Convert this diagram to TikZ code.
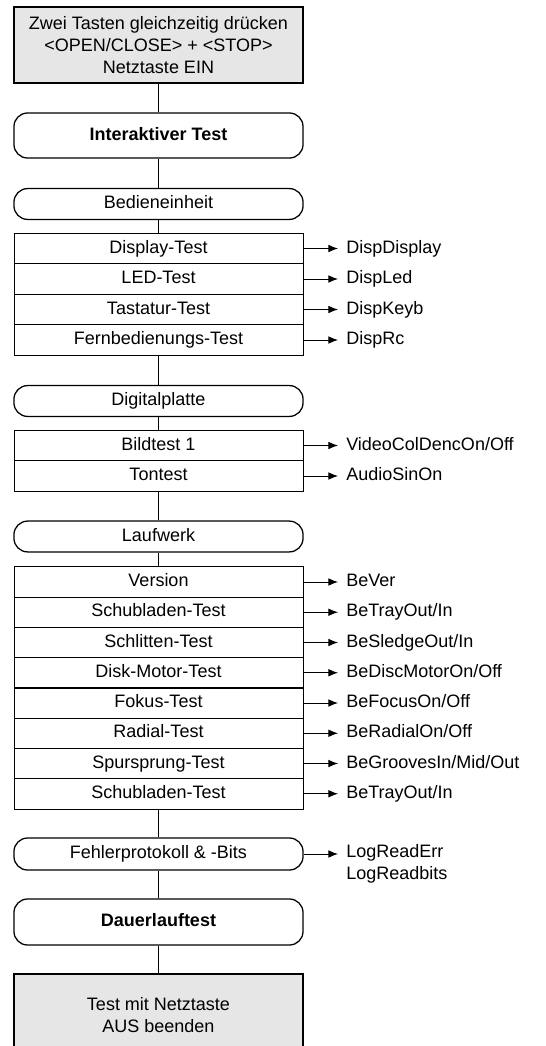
\documentclass[tikz,border=0pt]{standalone}
\usepackage{fontspec}
\setmainfont{Liberation Sans}
\usepackage{xcolor}
\usetikzlibrary{arrows.meta,positioning}
\definecolor{boxgray}{RGB}{230,230,230}

\begin{document}
\begin{tikzpicture}[x=0.025cm, y=-0.025cm,
  every node/.style={font=\fontsize{12.8}{15.6}\selectfont, text height=1.55ex, text depth=.3ex},
  startbox/.style={draw, line width=1.1pt, fill=boxgray, minimum width=7.225cm, align=center},
  phase/.style={draw, line width=0.9pt, rounded corners=0.34cm, minimum width=7.225cm, minimum height=1.125cm, font=\fontsize{12.8}{15.6}\selectfont\bfseries},
  section/.style={draw, line width=0.9pt, rounded corners=0.34cm, minimum width=7.225cm, minimum height=0.77cm},
  testrow/.style={draw, line width=0.6pt, minimum width=7.225cm, minimum height=0.76cm},
  result/.style={anchor=west, inner xsep=0.2cm},
  call/.style={line width=0.6pt, -{Latex[length=2.4mm, width=1.9mm]}},
  link/.style={line width=0.6pt}
]
  \useasboundingbox (0,0) rectangle (546,1046);

  % start and first phase
  \node[startbox, minimum height=1.9cm, text height=, text depth=] (start) at (158.5,45)
    {Zwei Tasten gleichzeitig drücken\\<OPEN/CLOSE> + <STOP>\\Netztaste EIN};
  \node[phase] (inter) at (158.5,135.5) {Interaktiver Test};
  \draw[link] (start) -- (inter);

  % Bedieneinheit
  \node[section] (bedien) at (158.5,204) {Bedieneinheit};
  \draw[link] (inter) -- (bedien);
  \foreach \name/\txt/\res [count=\i from 0] in {disp/Display-Test/DispDisplay, led/LED-Test/DispLed,
      keyb/Tastatur-Test/DispKeyb, rc/Fernbedienungs-Test/DispRc} {
    \node[testrow] (\name) at (158.5,248.5+30.5*\i) {\txt};
    \node[result] (\name-res) at (338,248.5+30.5*\i) {\res};
    \draw[call] (\name) -- (\name-res);
  }
  \draw[link] (bedien) -- (disp);

  % Digitalplatte
  \node[section] (digital) at (158.5,401) {Digitalplatte};
  \draw[link] (rc) -- (digital);
  \foreach \name/\txt/\res [count=\i from 0] in {bild/Bildtest 1/{VideoColDencOn/Off}, ton/Tontest/AudioSinOn} {
    \node[testrow] (\name) at (158.5,445.5+30.5*\i) {\txt};
    \node[result] (\name-res) at (338,445.5+30.5*\i) {\res};
    \draw[call] (\name) -- (\name-res);
  }
  \draw[link] (digital) -- (bild);

  % Laufwerk
  \node[section] (lauf) at (158.5,536.5) {Laufwerk};
  \draw[link] (ton) -- (lauf);
  \foreach \name/\txt/\res [count=\i from 0] in {ver/Version/BeVer, trayA/Schubladen-Test/{BeTrayOut/In},
      sledge/Schlitten-Test/{BeSledgeOut/In}, motor/Disk-Motor-Test/{BeDiscMotorOn/Off},
      focus/Fokus-Test/{BeFocusOn/Off}, radial/Radial-Test/{BeRadialOn/Off},
      groove/Spursprung-Test/{BeGroovesIn/Mid/Out}, trayB/Schubladen-Test/{BeTrayOut/In}} {
    \node[testrow] (\name) at (158.5,582+30.25*\i) {\txt};
    \node[result] (\name-res) at (338,582+30.25*\i) {\res};
    \draw[call] (\name) -- (\name-res);
  }
  \draw[link] (lauf) -- (ver);

  % Fehlerprotokoll
  \node[section, minimum height=0.8cm] (fehler) at (158.5,854) {Fehlerprotokoll \& -Bits};
  \draw[link] (trayB) -- (fehler);
  \node[result, anchor=north west, align=left, text height=, text depth=, inner ysep=0pt] (logs) at (338,844)
    {LogReadErr\\LogReadbits};
  \draw[call] (fehler) -- (fehler -| logs.west);

  % end
  \node[phase, minimum height=1.15cm] (dauer) at (158.5,922) {Dauerlauftest};
  \draw[link] (fehler) -- (dauer);
  \node[startbox, minimum height=2.05cm, text height=, text depth=] (ende) at (158.5,1015)
    {Test mit Netztaste\\AUS beenden};
  \draw[link] (dauer) -- (ende);
\end{tikzpicture}
\end{document}
